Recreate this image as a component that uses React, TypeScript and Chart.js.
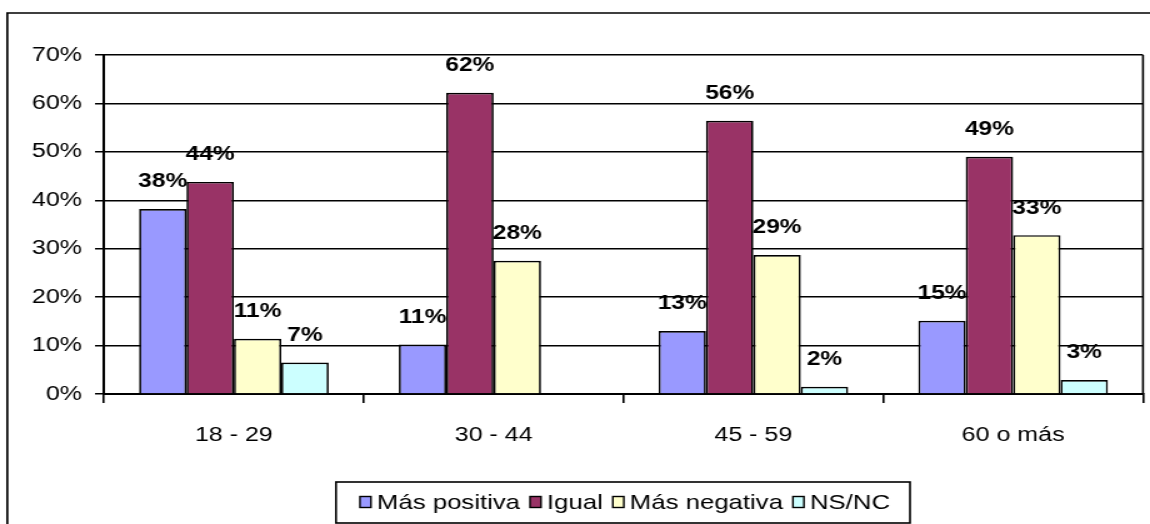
import React, { useEffect, useRef } from 'react';
import { Chart, registerables } from 'chart.js';

Chart.register(...registerables);

// ---- data ----
const categories = ['18 - 29', '30 - 44', '45 - 59', '60 o más'];
const seriesNames = ['Más positiva', 'Igual', 'Más negativa', 'NS/NC'];
const masPositiva = [38.2, 10.2, 13.0, 15.1];
const igual = [43.8, 62.2, 56.4, 49.0];
const masNegativa = [11.4, 27.5, 28.7, 32.8];
const nsnc = [6.5, null, 1.5, 2.9];
const masPositivaLabels = ['38%', '11%', '13%', '15%'];
const igualLabels = ['44%', '62%', '56%', '49%'];
const masNegativaLabels = ['11%', '28%', '29%', '33%'];
const nsncLabels = ['7%', '', '2%', '3%'];
const yMin = 0;
const yMax = 70;
const yStep = 10;
const seriesColors = ['#9999FF', '#993366', '#FFFFCC', '#CCFFFF'];

// ---- layout (internal canvas is stretched horizontally to 1150px) ----
const DISPLAY_W = 1150;
const H = 524;
const W = 920;
const SX = DISPLAY_W / W;
const FONT = '"Liberation Sans", Arial, Helvetica, sans-serif';

const framePlugin = {
  id: 'frame',
  beforeDraw(chart: any) {
    const ctx = chart.ctx;
    ctx.save();
    ctx.fillStyle = '#fff';
    ctx.fillRect(0, 0, chart.width, chart.height);
    ctx.strokeStyle = '#000';
    ctx.lineWidth = 1.7;
    ctx.beginPath();
    ctx.moveTo(7.3 / SX, H + 2);
    ctx.lineTo(7.3 / SX, 13);
    ctx.lineTo(W + 2, 13);
    ctx.stroke();
    ctx.restore();
  },
  afterDatasetsDraw(chart: any) {
    const ctx = chart.ctx;
    const a = chart.chartArea;
    ctx.save();
    ctx.strokeStyle = '#000';
    ctx.lineWidth = 1.6;
    ctx.beginPath();
    ctx.moveTo(a.right, a.top);
    ctx.lineTo(a.right, a.bottom);
    ctx.stroke();
    ctx.restore();
  },
};

const valueLabelsPlugin = {
  id: 'valueLabels',
  afterDatasetsDraw(chart: any) {
    const ctx = chart.ctx;
    ctx.save();
    ctx.fillStyle = '#000';
    ctx.font = `bold 19.6px ${FONT}`;
    ctx.textAlign = 'center';
    ctx.textBaseline = 'middle';
    chart.data.datasets.forEach((ds: any, di: number) => {
      const meta = chart.getDatasetMeta(di);
      meta.data.forEach((el: any, i: number) => {
        const txt = ds.valueLabels[i];
        if (!txt || ds.data[i] == null) return;
        ctx.fillText(txt, el.x, el.y - 27);
      });
    });
    ctx.restore();
  },
};

const boxLegendPlugin = {
  id: 'boxLegend',
  afterDraw(chart: any) {
    const ctx = chart.ctx;
    const left = 336 / SX;
    const right = 910 / SX;
    const top = 482;
    const bottom = 523;
    ctx.save();
    ctx.fillStyle = '#fff';
    ctx.fillRect(left, top, right - left, bottom - top);
    ctx.strokeStyle = '#000';
    ctx.lineWidth = 1.6;
    ctx.strokeRect(left, top, right - left, bottom - top);
    ctx.font = `20.6px ${FONT}`;
    ctx.textBaseline = 'middle';
    ctx.textAlign = 'left';
    const sq = 11 / SX;
    const sqH = 11;
    const gapIn = 6 / SX;
    const gapOut = 10 / SX;
    const items = chart.data.datasets.map((d: any) => ({
      label: d.label,
      color: d.backgroundColor,
      w: ctx.measureText(d.label).width,
    }));
    const total =
      items.reduce((s: number, it: any) => s + sq + gapIn + it.w, 0) + gapOut * (items.length - 1);
    let x = (left + right) / 2 - total / 2 + 2 / SX;
    const cy = 502;
    items.forEach((it: any) => {
      ctx.fillStyle = it.color;
      ctx.fillRect(x, cy - sqH / 2, sq, sqH);
      ctx.strokeStyle = '#000';
      ctx.lineWidth = 1.4;
      ctx.strokeRect(x, cy - sqH / 2, sq, sqH);
      x += sq + gapIn;
      ctx.fillStyle = '#000';
      ctx.fillText(it.label, x, cy + 1);
      x += it.w + gapOut;
    });
    ctx.restore();
  },
};

export default function App() {
  const ref = useRef<HTMLCanvasElement | null>(null);

  useEffect(() => {
    const canvas = ref.current;
    if (!canvas) return;
    const seriesValues = [masPositiva, igual, masNegativa, nsnc];
    const seriesLabels = [masPositivaLabels, igualLabels, masNegativaLabels, nsncLabels];
    const chart = new Chart(canvas, {
      type: 'bar',
      data: {
        labels: categories,
        datasets: seriesNames.map((name, i) => ({
          label: name,
          data: seriesValues[i],
          valueLabels: seriesLabels[i],
          backgroundColor: seriesColors[i],
          borderColor: '#000',
          borderWidth: 1.7,
          categoryPercentage: 0.73,
          barPercentage: 1,
        })) as any,
      },
      options: {
        responsive: false,
        animation: false,
        devicePixelRatio: 1,
        events: [],
        layout: { padding: { top: 55, right: W - 1143 / SX, left: 0, bottom: 0 } },
        plugins: {
          legend: { display: false },
          tooltip: { enabled: false },
          title: { display: false },
        },
        scales: {
          x: {
            offset: true,
            grid: {
              offset: true,
              drawOnChartArea: false,
              drawTicks: true,
              tickLength: 9,
              color: '#000',
              lineWidth: 1.6,
            },
            border: { display: true, color: '#000', width: 2 },
            ticks: {
              color: '#000',
              font: { family: FONT, size: 20 },
              padding: 20,
              maxRotation: 0,
              autoSkip: false,
            },
            afterFit(scale: any) {
              scale.height = H - 394;
            },
          },
          y: {
            min: yMin,
            max: yMax,
            grid: {
              color: '#000',
              lineWidth: 1.5,
              drawTicks: true,
              tickLength: (104 - 95) / SX,
            },
            border: { display: true, color: '#000', width: 2 },
            ticks: {
              stepSize: yStep,
              color: '#000',
              font: { family: FONT, size: 20 },
              padding: (95 - 82) / SX,
              callback: (v: any) => `${v}%`,
            },
            afterFit(scale: any) {
              scale.width = 104 / SX;
            },
          },
        },
      },
      plugins: [framePlugin, valueLabelsPlugin, boxLegendPlugin],
    });
    return () => chart.destroy();
  }, []);

  return (
    <canvas
      ref={ref}
      width={W}
      height={H}
      style={{
        position: 'fixed',
        left: 0,
        top: 0,
        width: `${DISPLAY_W}px`,
        height: `${H}px`,
        display: 'block',
      }}
    />
  );
}
